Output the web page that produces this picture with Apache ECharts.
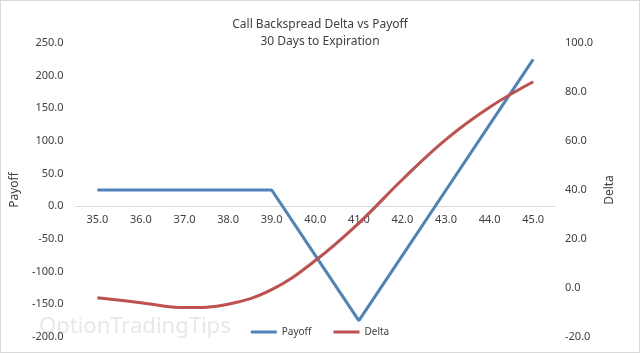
<!DOCTYPE html>
<html>
<head>
<meta charset="utf-8">
<script src="https://cdn.jsdelivr.net/npm/echarts@6/dist/echarts.min.js"></script>
<style>
  html, body { margin: 0; padding: 0; background: #fff; }
  #chart { width: 638px; height: 351px; border: 1px solid #d9d9d9; }
</style>
</head>
<body>
<div id="chart"></div>
<script>
// 行权价（横轴类目）
const strikes = ['35.0', '36.0', '37.0', '38.0', '39.0', '40.0', '41.0', '42.0', '43.0', '44.0', '45.0']
// 到期前 30 天的盈亏与 Delta
const payoff = [25, 25, 25, 25, 25, -75, -175, -75, 25, 125, 225]
const delta = [-4.0, -6.0, -8.0, -6.6, -0.7, 11.2, 26.5, 44.3, 60.7, 73.8, 84.2]

const payoffTicks = { min: -200, max: 250, step: 50 }
const deltaTicks = { min: -20, max: 100, step: 20 }

const fmt = v => v.toFixed(1)
const labelColor = '#404040'
const font = 'Noto Sans'

const chartDom = document.getElementById('chart')
const myChart = echarts.init(chartDom)

const gridTop = 42
const gridBottom = 15
const plotH = chartDom.clientHeight - gridTop - gridBottom
// 横轴要穿过盈亏 0 点，把整条轴（连同标签）往上挪
const zeroOffset = -plotH * (0 - payoffTicks.min) / (payoffTicks.max - payoffTicks.min)

myChart.setOption({
  animation: false,
  textStyle: { fontFamily: font },
  color: ['#4f81bd', '#c0504d'],
  title: {
    text: 'Call Backspread Delta vs Payoff\n30 Days to Expiration',
    left: 'center',
    top: 10,
    textStyle: { fontSize: 12, fontWeight: 'normal', color: labelColor, lineHeight: 17, fontFamily: font }
  },
  legend: {
    bottom: 10,
    left: 'center',
    itemWidth: 26,
    itemHeight: 3,
    itemGap: 22,
    icon: 'rect',
    textStyle: { fontSize: 10, color: labelColor },
    data: ['Payoff', 'Delta']
  },
  grid: { left: 62, right: 84, top: gridTop, bottom: gridBottom },
  xAxis: {
    type: 'category',
    data: strikes,
    boundaryGap: true,
    position: 'bottom',
    offset: zeroOffset,
    axisLine: { onZero: false, lineStyle: { color: '#d9d9d9', width: 1 } },
    axisTick: { show: false },
    axisLabel: { color: labelColor, fontSize: 11, margin: 8 },
    splitLine: { show: false }
  },
  yAxis: [
    {
      type: 'value',
      name: 'Payoff',
      nameLocation: 'middle',
      nameGap: 42,
      nameTextStyle: { color: labelColor, fontSize: 12 },
      min: payoffTicks.min,
      max: payoffTicks.max,
      interval: payoffTicks.step,
      axisLine: { show: false },
      axisTick: { show: false },
      splitLine: { show: false },
      axisLabel: { color: labelColor, fontSize: 11, formatter: fmt, margin: 12 }
    },
    {
      type: 'value',
      name: 'Delta',
      nameLocation: 'middle',
      nameGap: 44,
      nameTextStyle: { color: labelColor, fontSize: 12 },
      min: deltaTicks.min,
      max: deltaTicks.max,
      interval: deltaTicks.step,
      axisLine: { show: false },
      axisTick: { show: false },
      splitLine: { show: false },
      axisLabel: { color: labelColor, fontSize: 11, formatter: fmt, margin: 10 }
    }
  ],
  graphic: [
    {
      type: 'text',
      left: 38,
      top: 315,
      style: { text: 'OptionTradingTips', fontSize: 22, fill: '#e8e8e8', fontFamily: font }
    }
  ],
  series: [
    {
      name: 'Payoff',
      type: 'line',
      yAxisIndex: 0,
      data: payoff,
      symbol: 'none',
      lineStyle: { width: 3 }
    },
    {
      name: 'Delta',
      type: 'line',
      yAxisIndex: 1,
      data: delta,
      smooth: 0.4,
      symbol: 'none',
      lineStyle: { width: 3 }
    }
  ]
})
</script>
</body>
</html>
